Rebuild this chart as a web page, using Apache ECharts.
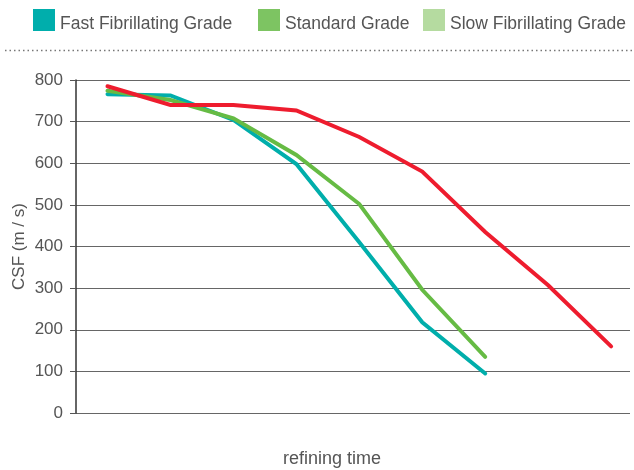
<!DOCTYPE html>
<html><head><meta charset="utf-8">
<script src="https://cdn.jsdelivr.net/npm/echarts@6/dist/echarts.min.js"></script>
<style>html,body{margin:0;padding:0;background:#fff}#c{width:634px;height:470px}</style>
</head><body><div id="c"></div>
<script>
const seriesNames = ['Fast Fibrillating Grade', 'Standard Grade', 'Slow Fibrillating Grade'];
const fastValues = [766, 763, 704, 598, 410, 218, 95];
const standardValues = [774, 752, 708, 620, 502, 296, 135];
const slowValues = [785, 740, 740, 727, 663, 580, 435, 307, 160];
const yTicks = [0, 100, 200, 300, 400, 500, 600, 700, 800];

const lineColors = ['#00aeab', '#66bb44', '#ee1c2e'];
const legendColors = ['#00aeac', '#7dc462', '#b5dba0'];
const toPts = arr => arr.map((v, i) => [i, v]);
const txt = '#555';
const font = 'Liberation Sans, Arial, sans-serif';

const legendPos = [33, 258, 423];
const chart = echarts.init(document.getElementById('c'));
chart.setOption({
  animation: false,
  legend: seriesNames.map((n, i) => ({
    left: legendPos[i], top: 9, padding: 0, itemWidth: 22, itemHeight: 22, itemGap: 0, itemTextGap: 7,
    selectedMode: false,
    formatter: '{a|{name}}',
    textStyle: {color: txt, fontSize: 17.5, fontFamily: font,
      rich: {a: {color: txt, fontSize: 17.5, fontFamily: font, padding: [8, 0, 0, 0]}}},
    data: [{name: n, icon: 'rect', itemStyle: {color: legendColors[i]}}]
  })),
  grid: {left: 76, right: 4, top: 80, bottom: 57},
  xAxis: {type: 'value', min: -0.5, max: 8.3, axisLine: {show: false}, axisTick: {show: false},
    axisLabel: {show: false}, splitLine: {show: false}},
  yAxis: {type: 'value', min: yTicks[0], max: yTicks[yTicks.length - 1], interval: 100,
    name: 'CSF (m / s)', nameLocation: 'middle', nameGap: 48, nameRotate: 90, nameMoveOverlap: false,
    nameTextStyle: {color: txt, fontSize: 17, fontFamily: font},
    axisLine: {show: true, onZero: false, lineStyle: {color: '#333', width: 1.5}},
    axisTick: {show: true, length: 6, lineStyle: {color: '#555'}},
    axisLabel: {color: txt, fontSize: 17, fontFamily: font, margin: 13},
    splitLine: {show: true, lineStyle: {color: '#666', width: 1.2}}},
  graphic: [
    {type: 'line', shape: {x1: 5, y1: 50.5, x2: 632, y2: 50.5}, style: {stroke: '#777', lineWidth: 1.5, lineDash: [1.5, 3]}},
    {type: 'text', x: 332, y: 459, style: {text: 'refining time', fill: txt, fontSize: 18, fontFamily: font, textAlign: 'center', textVerticalAlign: 'middle'}}
  ],
  series: [fastValues, standardValues, slowValues].map((arr, i) => ({
    name: seriesNames[i], type: 'line', data: toPts(arr), symbol: 'none', z: i === 2 ? 4 : 3,
    itemStyle: {color: legendColors[i]},
    lineStyle: {color: lineColors[i], width: 4, cap: 'round', join: 'miter'}
  }))
});
</script></body></html>
